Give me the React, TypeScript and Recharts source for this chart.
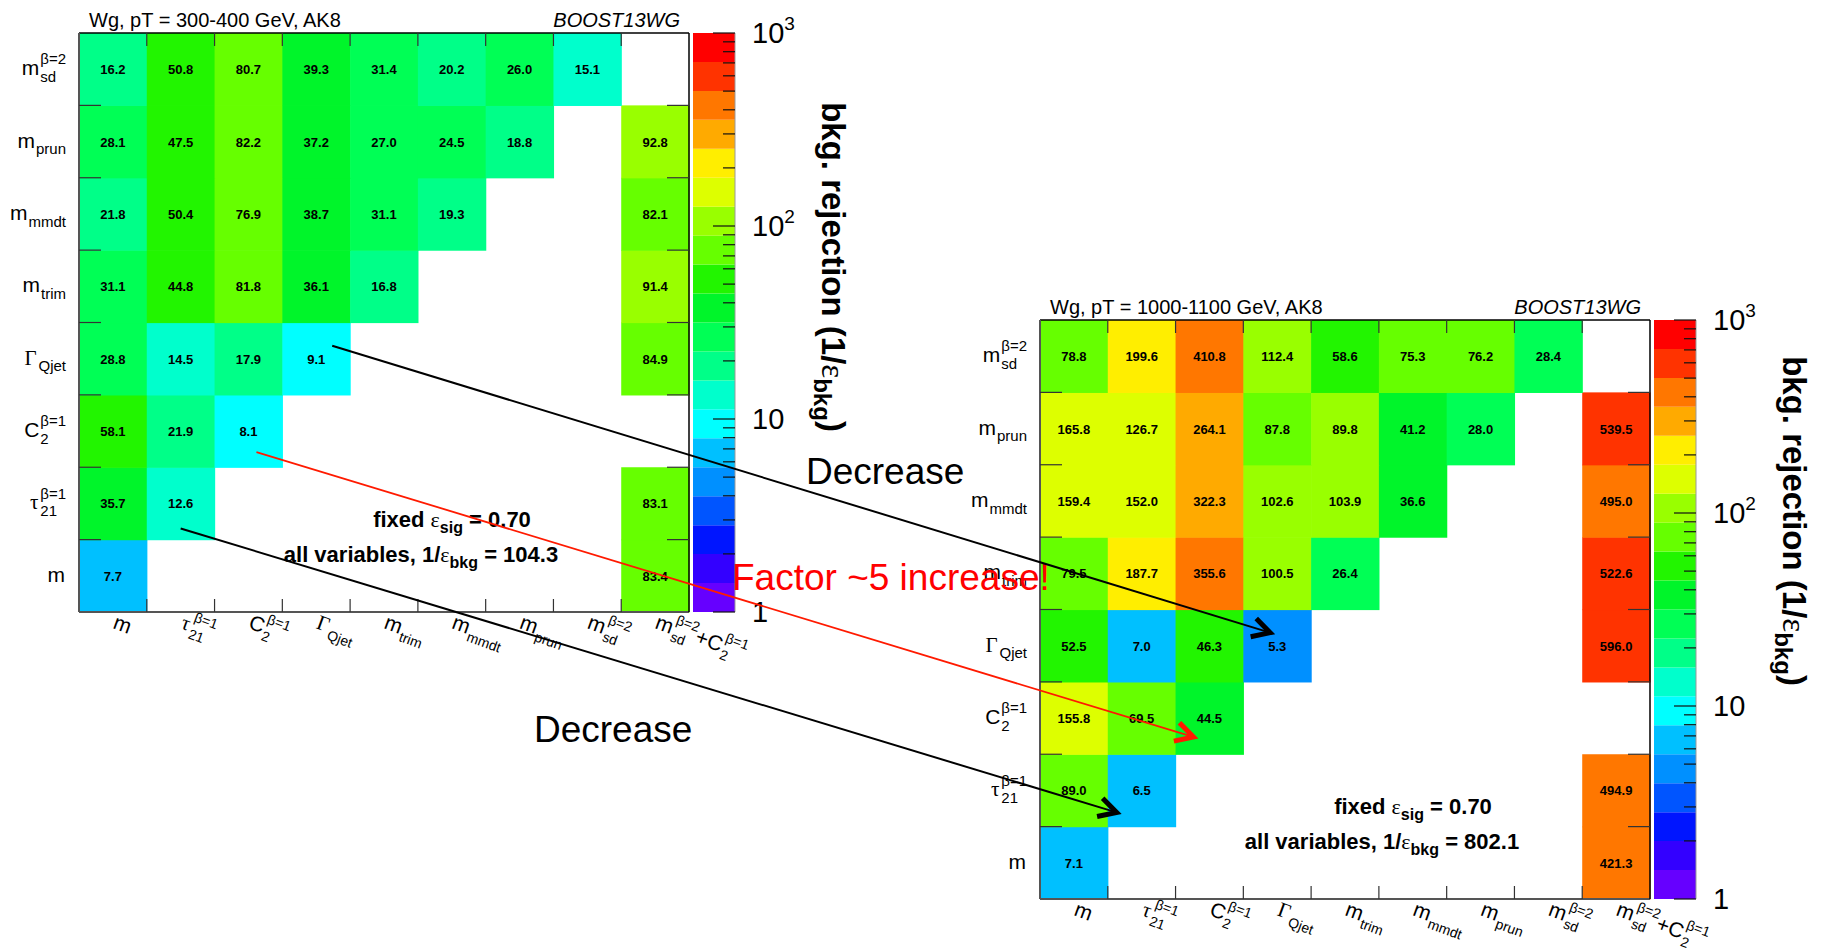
import React from 'react';
import { ScatterChart, Scatter, XAxis, YAxis, BarChart, Bar } from 'recharts';

const SANS = '"Liberation Sans", Arial, Helvetica, sans-serif';
const SERIF = '"Liberation Serif", "DejaVu Serif", serif';

type Lbl = { main: string; sub?: string; sup?: string; greek?: boolean };

// ---------- categories (index 0 = bottom row / left column) ----------
const variableLabels: Lbl[] = [
  { main: 'm' },
  { main: 'τ', sub: '21', sup: 'β=1', greek: true },
  { main: 'C', sub: '2', sup: 'β=1' },
  { main: 'Γ', sub: 'Qjet', greek: true },
  { main: 'm', sub: 'trim' },
  { main: 'm', sub: 'mmdt' },
  { main: 'm', sub: 'prun' },
  { main: 'm', sub: 'sd', sup: 'β=2' },
];
const comboLabel: Lbl[] = [
  { main: 'm', sub: 'sd', sup: 'β=2' },
  { main: '+C', sub: '2', sup: 'β=1' },
];

// ---------- pT = 300-400 GeV (columns left -> right) ----------
const low_msd = [16.2, 50.8, 80.7, 39.3, 31.4, 20.2, 26.0, 15.1, null];
const low_mprun = [28.1, 47.5, 82.2, 37.2, 27.0, 24.5, 18.8, null, 92.8];
const low_mmmdt = [21.8, 50.4, 76.9, 38.7, 31.1, 19.3, null, null, 82.1];
const low_mtrim = [31.1, 44.8, 81.8, 36.1, 16.8, null, null, null, 91.4];
const low_gamma = [28.8, 14.5, 17.9, 9.1, null, null, null, null, 84.9];
const low_c2 = [58.1, 21.9, 8.1, null, null, null, null, null, null];
const low_tau21 = [35.7, 12.6, null, null, null, null, null, null, 83.1];
const low_m = [7.7, null, null, null, null, null, null, null, 83.4];

// ---------- pT = 1000-1100 GeV ----------
const high_msd = [78.8, 199.6, 410.8, 112.4, 58.6, 75.3, 76.2, 28.4, null];
const high_mprun = [165.8, 126.7, 264.1, 87.8, 89.8, 41.2, 28.0, null, 539.5];
const high_mmmdt = [159.4, 152.0, 322.3, 102.6, 103.9, 36.6, null, null, 495.0];
const high_mtrim = [79.5, 187.7, 355.6, 100.5, 26.4, null, null, null, 522.6];
const high_gamma = [52.5, 7.0, 46.3, 5.3, null, null, null, null, 596.0];
const high_c2 = [155.8, 69.5, 44.5, null, null, null, null, null, null];
const high_tau21 = [89.0, 6.5, null, null, null, null, null, null, 494.9];
const high_m = [7.1, null, null, null, null, null, null, null, 421.3];

const lowRows = [low_m, low_tau21, low_c2, low_gamma, low_mtrim, low_mmmdt, low_mprun, low_msd];
const highRows = [high_m, high_tau21, high_c2, high_gamma, high_mtrim, high_mmmdt, high_mprun, high_msd];

const lowTitle = 'Wg, pT = 300-400 GeV, AK8';
const highTitle = 'Wg, pT = 1000-1100 GeV, AK8';
const tagText = 'BOOST13WG';
const sigEff = '0.70';
const lowAllVars = '104.3';
const highAllVars = '802.1';
const zTicks = [1, 10, 100, 1000];

// colour palette, lowest band first (20 contours over 1..1000, log)
const palette = [
  '#6600ff', '#3300ff', '#0015ff', '#0055ff', '#0090ff', '#00c0ff', '#00ffff', '#00ffcc', '#00ff88', '#00ff55',
  '#00f52a', '#22f500', '#66ff00', '#99ff00', '#ddff00', '#ffee00', '#ffaa00', '#ff7700', '#ff3300', '#ff0000',
];

// ---------- layout ----------
const NX = 9, NY = 8;
const PW = 610, PH = 579;
const CW = PW / NX, CH = PH / NY;
const LEFT = { x: 79, y: 33 };
const RIGHT = { x: 1040, y: 320 };
const ML = 90, MT = 40, MR = 140, MB = 110;
const YAXW = 85, XAXH = 100;
const CB_GAP = 4, CB_W = 42, CB_AXW = 150;
const TICK_C = '#333';

const xBounds = Array.from({ length: NX + 1 }, (_, i) => i);
const yBounds = Array.from({ length: NY + 1 }, (_, i) => i);
const logMax = Math.log10(zTicks[zTicks.length - 1]);
const cbTicks: number[] = [];
for (let k = 0; k < zTicks.length - 1; k++) for (let m = 1; m <= 9; m++) cbTicks.push(Math.log10(m * zTicks[k]));
cbTicks.push(logMax);
const bandData = [
  Object.fromEntries([['name', 'z'], ...palette.map((_, i) => [`b${i}`, logMax / palette.length])]),
];

function colorFor(v: number) {
  const k = Math.floor((Math.log10(v) / logMax) * palette.length + 1e-9);
  return palette[Math.min(palette.length - 1, Math.max(0, k))];
}

function toCells(rows: (number | null)[][]) {
  const out: { x: number; y: number; v: number }[] = [];
  rows.forEach((row, r) =>
    row.forEach((v, c) => {
      if (v != null) out.push({ x: c + 0.5, y: r + 0.5, v });
    })
  );
  return out;
}
const lowCells = toCells(lowRows);
const highCells = toCells(highRows);

// ---------- text helpers ----------
const W_EM: Record<string, number> = {
  m: 0.833, C: 0.722, '+': 0.584, '2': 0.556, '1': 0.556, '=': 0.584, s: 0.5, d: 0.556, p: 0.556, r: 0.333,
  u: 0.556, n: 0.556, t: 0.278, i: 0.222, Q: 0.778, j: 0.222, e: 0.556, 'β': 0.57, 'τ': 0.45, 'Γ': 0.62,
};
const textW = (s: string, fs: number) => [...s].reduce((a, ch) => a + (W_EM[ch] ?? 0.55), 0) * fs;

function partsWidth(parts: Lbl[], fs: number, ss: number) {
  return parts.reduce(
    (a, p) => a + textW(p.main, fs) + 1 + Math.max(p.sub ? textW(p.sub, ss) : 0, p.sup ? textW(p.sup, ss) : 0),
    0
  );
}

function renderParts(parts: Lbl[], fs: number, ss: number, x0: number, y0: number) {
  const out: React.ReactNode[] = [];
  let x = x0;
  parts.forEach((p, k) => {
    out.push(
      <text key={`m${k}`} x={x} y={y0} fontSize={fs} fontFamily={p.greek ? SERIF : SANS} fill="#000">
        {p.main}
      </text>
    );
    x += textW(p.main, fs) + 1;
    if (p.sub)
      out.push(
        <text key={`b${k}`} x={x} y={y0 + fs * 0.32} fontSize={ss} fontFamily={SANS} fill="#000">
          {p.sub}
        </text>
      );
    if (p.sup)
      out.push(
        <text key={`p${k}`} x={x} y={y0 - fs * 0.52} fontSize={ss} fontFamily={SANS} fill="#000">
          {p.sup}
        </text>
      );
    x += Math.max(p.sub ? textW(p.sub, ss) : 0, p.sup ? textW(p.sup, ss) : 0);
  });
  return out;
}

// ---------- axis ticks ----------
function BottomTick(p: any) {
  const { x, y, payload } = p;
  const i = Math.round(payload.value);
  return (
    <g>
      {i > 0 && i < NX && <line x1={x} y1={y} x2={x} y2={y - 13} stroke={TICK_C} strokeWidth={1.2} />}
      {i < NX && (
        <g transform={`translate(${x + CW / 2 - 1},${y + 16}) rotate(20)`}>
          {renderParts(i === NX - 1 ? comboLabel : [variableLabels[i]], 21, 14, 0, 0)}
        </g>
      )}
    </g>
  );
}
function TopTick(p: any) {
  const { x, y, payload } = p;
  const i = Math.round(payload.value);
  return <g>{i > 0 && i < NX && <line x1={x} y1={y} x2={x} y2={y + 13} stroke={TICK_C} strokeWidth={1.2} />}</g>;
}
function LeftTick(p: any) {
  const { x, y, payload } = p;
  const i = Math.round(payload.value);
  const parts = i < NY ? [variableLabels[i]] : null;
  const w = parts ? partsWidth(parts, 21, 15) : 0;
  return (
    <g>
      {i > 0 && i < NY && <line x1={x} y1={y} x2={x + 22} y2={y} stroke={TICK_C} strokeWidth={1.2} />}
      {parts && renderParts(parts, 21, 15, x - 13 - w, y - CH / 2 + 6)}
    </g>
  );
}
function RightTick(p: any) {
  const { x, y, payload } = p;
  const i = Math.round(payload.value);
  return <g>{i > 0 && i < NY && <line x1={x} y1={y} x2={x - 22} y2={y} stroke={TICK_C} strokeWidth={1.2} />}</g>;
}
function CbTick(p: any) {
  const { x, y, payload } = p;
  const v = payload.value as number;
  const major = Math.abs(v - Math.round(v)) < 1e-6;
  const val = major ? zTicks[Math.round(v)] : 0;
  const exp = Math.round(v);
  return (
    <g>
      <line x1={x} y1={y} x2={x - (major ? 22 : 12)} y2={y} stroke="#111" strokeWidth={1.2} />
      {major && (
        <text x={x + 17} y={y + 10} fontSize={29} fontFamily={SANS} fill="#000">
          {exp <= 1 ? String(val) : '10'}
          {exp > 1 && (
            <tspan dy={-13} fontSize={19}>
              {String(exp)}
            </tspan>
          )}
        </text>
      )}
    </g>
  );
}

function HeatCell(props: any) {
  const { cx, cy, payload } = props;
  if (cx == null || cy == null) return <g />;
  return (
    <g>
      <rect x={cx - CW / 2} y={cy - CH / 2} width={CW + 0.6} height={CH + 0.6} fill={colorFor(payload.v)} />
      <text x={cx} y={cy + 5} textAnchor="middle" fontSize={13} fontWeight="bold" fontFamily={SANS} fill="#000">
        {payload.v.toFixed(1)}
      </text>
    </g>
  );
}

// axis set; "decorated" draws ticks, labels and frame lines, otherwise only reserves the same space
function axisElements(decorated: boolean) {
  return [
    <XAxis
      key="xb"
      xAxisId="b"
      type="number"
      dataKey="x"
      domain={[0, NX]}
      ticks={xBounds}
      interval={0}
      height={XAXH}
      tickSize={0}
      tickMargin={0}
      tick={decorated ? (p: any) => <BottomTick {...p} /> : false}
      axisLine={decorated ? { stroke: '#555', strokeWidth: 2 } : false}
    />,
    <XAxis
      key="xt"
      xAxisId="t"
      orientation="top"
      type="number"
      dataKey="x"
      domain={[0, NX]}
      ticks={xBounds}
      interval={0}
      mirror
      height={20}
      tickSize={0}
      tickMargin={0}
      tick={decorated ? (p: any) => <TopTick {...p} /> : false}
      axisLine={decorated ? { stroke: '#000', strokeWidth: 1.5 } : false}
    />,
    <YAxis
      key="yl"
      yAxisId="l"
      type="number"
      dataKey="y"
      domain={[0, NY]}
      ticks={yBounds}
      interval={0}
      width={YAXW}
      tickSize={0}
      tickMargin={0}
      tick={decorated ? (p: any) => <LeftTick {...p} /> : false}
      axisLine={decorated ? { stroke: '#555', strokeWidth: 2 } : false}
    />,
    <YAxis
      key="yr"
      yAxisId="r"
      orientation="right"
      type="number"
      dataKey="y"
      domain={[0, NY]}
      ticks={yBounds}
      interval={0}
      mirror
      width={20}
      tickSize={0}
      tickMargin={0}
      tick={decorated ? (p: any) => <RightTick {...p} /> : false}
      axisLine={decorated ? { stroke: '#000', strokeWidth: 1.5 } : false}
    />,
  ];
}

function Heatmap({ origin, cells }: { origin: { x: number; y: number }; cells: any[] }) {
  const W = ML + PW + MR, H = MT + PH + MB;
  const margin = { top: MT, left: ML - YAXW, right: MR, bottom: MB - XAXH };
  return (
    <div style={{ position: 'absolute', left: origin.x - ML, top: origin.y - MT, width: W, height: H }}>
      <div style={{ position: 'absolute', left: 0, top: 0 }}>
        <ScatterChart width={W} height={H} margin={margin}>
          {axisElements(false)}
          <Scatter data={cells} xAxisId="b" yAxisId="l" shape={(p: any) => <HeatCell {...p} />} isAnimationActive={false} />
          <Scatter data={cells} xAxisId="t" yAxisId="r" shape={() => <g />} isAnimationActive={false} />
        </ScatterChart>
      </div>
      <div style={{ position: 'absolute', left: 0, top: 0 }}>
        <ScatterChart width={W} height={H} margin={margin}>
          {axisElements(true)}
          <Scatter data={cells} xAxisId="b" yAxisId="l" shape={() => <g />} isAnimationActive={false} />
          <Scatter data={cells} xAxisId="t" yAxisId="r" shape={() => <g />} isAnimationActive={false} />
        </ScatterChart>
      </div>
    </div>
  );
}

function ColorBar({ origin }: { origin: { x: number; y: number } }) {
  return (
    <div style={{ position: 'absolute', left: origin.x + PW + CB_GAP, top: origin.y - MT }}>
      <BarChart
        width={CB_W + CB_AXW}
        height={MT + PH + MB}
        data={bandData}
        margin={{ top: MT, bottom: MB, left: 0, right: 0 }}
        barCategoryGap={0}
        barGap={0}
      >
        <XAxis dataKey="name" hide />
        <YAxis
          orientation="right"
          type="number"
          domain={[0, logMax]}
          ticks={cbTicks}
          interval={0}
          width={CB_AXW}
          tickSize={0}
          tickMargin={0}
          tick={(p: any) => <CbTick {...p} />}
          axisLine={{ stroke: '#999', strokeWidth: 1 }}
          allowDataOverflow
        />
        {palette.map((c, i) => (
          <Bar key={i} dataKey={`b${i}`} stackId="z" fill={c} isAnimationActive={false} />
        ))}
      </BarChart>
    </div>
  );
}

type Pt = { x: number; y: number };
function Arrow({ from, to, color, width }: { from: Pt; to: Pt; color: string; width: number }) {
  const dx = to.x - from.x, dy = to.y - from.y;
  const L = Math.hypot(dx, dy);
  const ux = dx / L, uy = dy / L;
  const head = 20, a = 0.5;
  const cs = Math.cos(a), sn = Math.sin(a);
  const a1 = { x: to.x - head * (ux * cs - uy * sn), y: to.y - head * (uy * cs + ux * sn) };
  const a2 = { x: to.x - head * (ux * cs + uy * sn), y: to.y - head * (uy * cs - ux * sn) };
  return (
    <g>
      <line x1={from.x} y1={from.y} x2={to.x - ux * 2} y2={to.y - uy * 2} stroke={color} strokeWidth={width} />
      <polyline
        points={`${a1.x},${a1.y} ${to.x},${to.y} ${a2.x},${a2.y}`}
        fill="none"
        stroke={color}
        strokeWidth={5}
        strokeLinejoin="miter"
      />
    </g>
  );
}

function PanelText({ origin, title, allVars }: { origin: Pt; title: string; allVars: string }) {
  const bottom = origin.y + PH;
  return (
    <g fontFamily={SANS} fill="#000">
      <text x={origin.x + 10} y={origin.y - 6} fontSize={20}>
        {title}
      </text>
      <text x={origin.x + PW - 9} y={origin.y - 6} fontSize={20} fontStyle="italic" textAnchor="end">
        {tagText}
      </text>
      <text x={origin.x + 373} y={bottom - 85} fontSize={22} fontWeight="bold" textAnchor="middle">
        {'fixed '}
        <tspan fontFamily={SERIF} fontWeight="normal">ε</tspan>
        <tspan dy={6} fontSize={16}>sig</tspan>
        <tspan dy={-6}>{` = ${sigEff}`}</tspan>
      </text>
      <text x={origin.x + 342} y={bottom - 50} fontSize={22} fontWeight="bold" textAnchor="middle">
        {'all variables, 1/'}
        <tspan fontFamily={SERIF} fontWeight="normal">ε</tspan>
        <tspan dy={6} fontSize={16}>bkg</tspan>
        <tspan dy={-6}>{` = ${allVars}`}</tspan>
      </text>
    </g>
  );
}

function CbTitle({ x, y }: { x: number; y: number }) {
  return (
    <text
      transform={`translate(${x},${y}) rotate(90)`}
      textAnchor="middle"
      fontSize={33}
      fontWeight="bold"
      fontFamily={SANS}
      fill="#000"
    >
      {'bkg. rejection (1/'}
      <tspan fontFamily={SERIF} fontWeight="normal">ε</tspan>
      <tspan dy={8} fontSize={24}>bkg</tspan>
      <tspan dy={-8}>)</tspan>
    </text>
  );
}

function Overlay() {
  const cell = (o: Pt, col: number, row: number): Pt => ({
    x: o.x + (col + 0.5) * CW,
    y: o.y + PH - (row + 0.5) * CH,
  });
  const off = (p: Pt, dx: number, dy: number): Pt => ({ x: p.x + dx, y: p.y + dy });
  const cbRightL = LEFT.x + PW + CB_GAP + CB_W;
  const cbRightR = RIGHT.x + PW + CB_GAP + CB_W;
  return (
    <svg width={1821} height={951} style={{ position: 'absolute', left: 0, top: 0, pointerEvents: 'none' }}>
      <PanelText origin={LEFT} title={lowTitle} allVars={lowAllVars} />
      <PanelText origin={RIGHT} title={highTitle} allVars={highAllVars} />
      <CbTitle x={cbRightL + 87} y={LEFT.y + 234} />
      <CbTitle x={cbRightR + 87} y={RIGHT.y + 201} />
      <text x={806} y={484} fontSize={37} fontFamily={SANS} fill="#000">Decrease</text>
      <text x={534} y={742} fontSize={37} fontFamily={SANS} fill="#000">Decrease</text>
      <text x={732} y={590} fontSize={37} fontFamily={SANS} fill="#ff0000">Factor ~5 increase!</text>
      <Arrow from={off(cell(LEFT, 3, 3), 16, -13)} to={off(cell(RIGHT, 3, 3), -7, -13)} color="#000" width={2} />
      <Arrow from={off(cell(LEFT, 2, 2), 8, 21)} to={off(cell(RIGHT, 2, 2), -16, 19)} color="#ff1a00" width={1.8} />
      <Arrow from={off(cell(LEFT, 1, 1), 0, 25)} to={off(cell(RIGHT, 1, 1), -25, 22)} color="#000" width={2} />
    </svg>
  );
}

export default function App() {
  return (
    <div
      style={{
        position: 'fixed',
        left: 0,
        top: 0,
        width: 1821,
        height: 951,
        background: '#fff',
        overflow: 'hidden',
        fontFamily: SANS,
      }}
    >
      <Heatmap origin={LEFT} cells={lowCells} />
      <Heatmap origin={RIGHT} cells={highCells} />
      <ColorBar origin={LEFT} />
      <ColorBar origin={RIGHT} />
      <Overlay />
    </div>
  );
}
